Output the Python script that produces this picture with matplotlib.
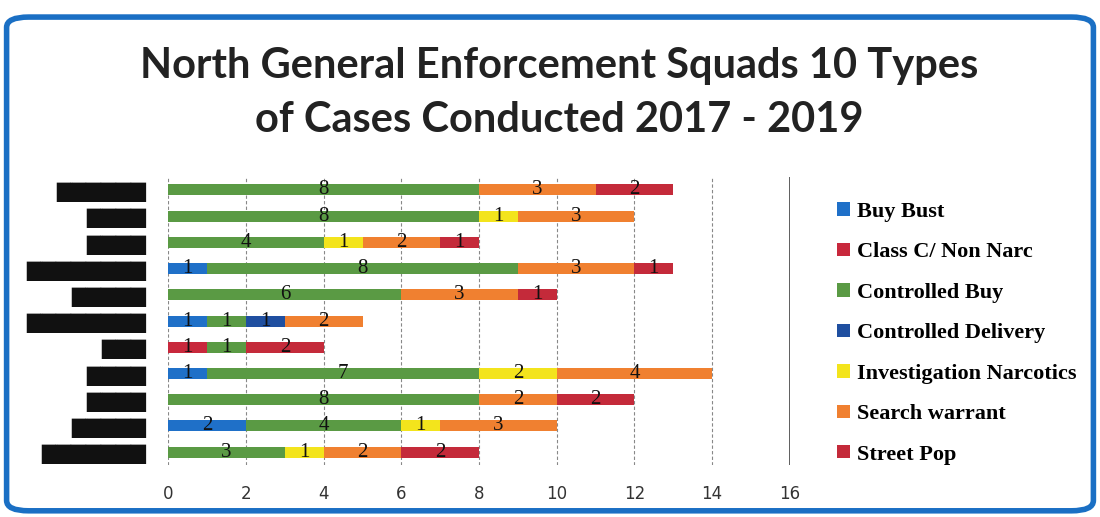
import numpy as np
import matplotlib.pyplot as plt
from matplotlib.patches import FancyBboxPatch

# rows top to bottom, names redacted in the source
row_labels = ["█" * 6, "█" * 4, "█" * 4, "█" * 8, "█" * 5, "█" * 8,
              "█" * 3, "█" * 4, "█" * 4, "█" * 5, "█" * 7]

series = ["Buy Bust", "Class C/ Non Narc", "Controlled Buy", "Controlled Delivery",
          "Investigation Narcotics", "Search warrant", "Street Pop"]

buy_bust = [0, 0, 0, 1, 0, 1, 0, 1, 0, 2, 0]
class_c = [0, 0, 0, 0, 0, 0, 1, 0, 0, 0, 0]
controlled_buy = [8, 8, 4, 8, 6, 1, 1, 7, 8, 4, 3]
controlled_delivery = [0, 0, 0, 0, 0, 1, 0, 0, 0, 0, 0]
investigation = [0, 1, 1, 0, 0, 0, 0, 2, 0, 1, 1]
search_warrant = [3, 3, 2, 3, 3, 2, 0, 4, 2, 3, 2]
street_pop = [2, 0, 1, 1, 1, 0, 2, 0, 2, 0, 2]

colors = ["#1f70c8", "#c8283c", "#5a9a44", "#1f4fa0", "#f3e41c", "#f08030", "#c42a3a"]

values = [buy_bust, class_c, controlled_buy, controlled_delivery,
          investigation, search_warrant, street_pop]

fig = plt.figure(figsize=(11, 5.17), dpi=100)
ax = fig.add_axes([0.153, 0.10, 0.565, 0.558])

y = np.arange(len(row_labels))
left = np.zeros(len(row_labels))
for name, vals, col in zip(series, values, colors):
    vals = np.array(vals, dtype=float)
    ax.barh(y, vals, left=left, height=0.42, color=col, label=name)
    for yi, (l, v) in enumerate(zip(left, vals)):
        if v > 0:
            ax.text(l + v / 2, yi, f"{int(v)}", ha="center", va="center",
                    fontsize=15, family="Liberation Serif", color="#111111")
    left += vals

ax.set_ylim(len(row_labels) - 0.5, -0.5)
ax.set_xlim(0, 16)
ax.set_xticks(np.arange(0, 17, 2))
ax.set_yticks(y)
ax.set_yticklabels(row_labels, fontsize=14, color="#111111")
ax.tick_params(axis="y", length=0, pad=16)
ax.tick_params(axis="x", length=0, pad=14, labelsize=12, labelcolor="#333333")
ax.grid(axis="x", color="#888888", linestyle=(0, (3, 2)), linewidth=0.8)
ax.set_axisbelow(True)
for s in ax.spines.values():
    s.set_visible(False)
ax.axvline(16, color="#444444", linewidth=1.2)

fig.text(0.508, 0.872, "North General Enforcement Squads 10 Types",
         ha="center", va="center", fontsize=30, fontweight="bold", color="#222222",
         family="Lato")
fig.text(0.508, 0.768, "of Cases Conducted 2017 - 2019",
         ha="center", va="center", fontsize=30, fontweight="bold", color="#222222",
         family="Lato")

handles, labels = ax.get_legend_handles_labels()
leg = fig.legend(handles, labels, loc="upper left", bbox_to_anchor=(0.743, 0.648),
                 frameon=False, handlelength=0.55, handleheight=0.55, handletextpad=0.35,
                 labelspacing=0.92, prop={"family": "Liberation Serif", "weight": "bold", "size": 16})

border = FancyBboxPatch((0.006, 0.012), 0.988, 0.955, boxstyle="round,pad=0,rounding_size=0.02",
                        transform=fig.transFigure, fill=False, edgecolor="#1a6fc4", linewidth=4)
fig.patches.append(border)

fig.savefig("out.png", dpi=100)
